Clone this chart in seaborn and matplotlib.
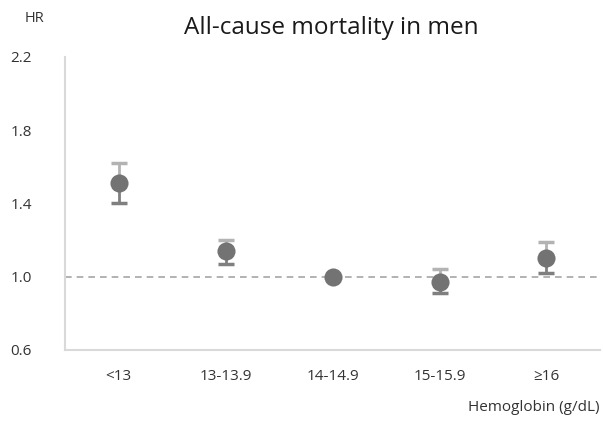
import numpy as np
import pandas as pd
import matplotlib
matplotlib.use('Agg')
import matplotlib.pyplot as plt
import seaborn as sns

groups = ['<13', '13-13.9', '14-14.9', '15-15.9', '≥16']
hr = [1.51, 1.14, 1.00, 0.97, 1.10]
upper = [1.62, 1.20, 1.00, 1.04, 1.19]
lower = [1.40, 1.07, 1.00, 0.91, 1.02]

sns.set_style('white')
plt.rcParams['font.family'] = ['Open Sans', 'DejaVu Sans']

df = pd.DataFrame({'group': groups, 'hr': hr, 'upper': upper, 'lower': lower})
df['pos'] = np.arange(len(groups))

fig = plt.figure(figsize=(6.03, 4.22), dpi=100)
ax = fig.add_axes([0.108, 0.171, 0.887, 0.694])

# upper whisker lighter, lower whisker darker
ax.errorbar(df['pos'], df['hr'], yerr=[np.zeros(len(df)), df['upper'] - df['hr']],
            fmt='none', ecolor='#b3b3b3', elinewidth=2, capsize=6, capthick=2.5, zorder=2)
ax.errorbar(df['pos'], df['hr'], yerr=[df['hr'] - df['lower'], np.zeros(len(df))],
            fmt='none', ecolor='#7f7f7f', elinewidth=2, capsize=6, capthick=2.5, zorder=2)
sns.scatterplot(data=df, x='pos', y='hr', ax=ax, s=170, color='#737373',
                edgecolor='#737373', linewidth=0, zorder=3)

ax.axhline(1.0, color='#a6a6a6', linestyle=(0, (4, 3)), linewidth=1.2, zorder=1)

ax.set_xlim(-0.5, len(groups) - 0.5)
ax.set_ylim(0.6, 2.2)
ax.set_yticks([0.6, 1.0, 1.4, 1.8, 2.2])
ax.set_yticklabels(['0.6', '1.0', '1.4', '1.8', '2.2'])
ax.set_xticks(df['pos'])
ax.set_xticklabels(groups)
ax.tick_params(length=0, labelsize=11, colors='#333333', pad=14)
ax.tick_params(axis='y', pad=24)
ax.set_xlabel('')
ax.set_ylabel('')
for s in ['top', 'right']:
    ax.spines[s].set_visible(False)
for s in ['left', 'bottom']:
    ax.spines[s].set_color('#d9d9d9')
    ax.spines[s].set_linewidth(1.5)

fig.text(0.55, 0.933, 'All-cause mortality in men', ha='center', va='center',
         fontsize=17.5, color='#1a1a1a')
fig.text(0.057, 0.955, 'HR', ha='center', va='center', fontsize=10.5, color='#333333')
fig.text(0.995, 0.035, 'Hemoglobin (g/dL)', ha='right', va='center',
         fontsize=11, color='#333333')

fig.savefig('out.png', dpi=100)
